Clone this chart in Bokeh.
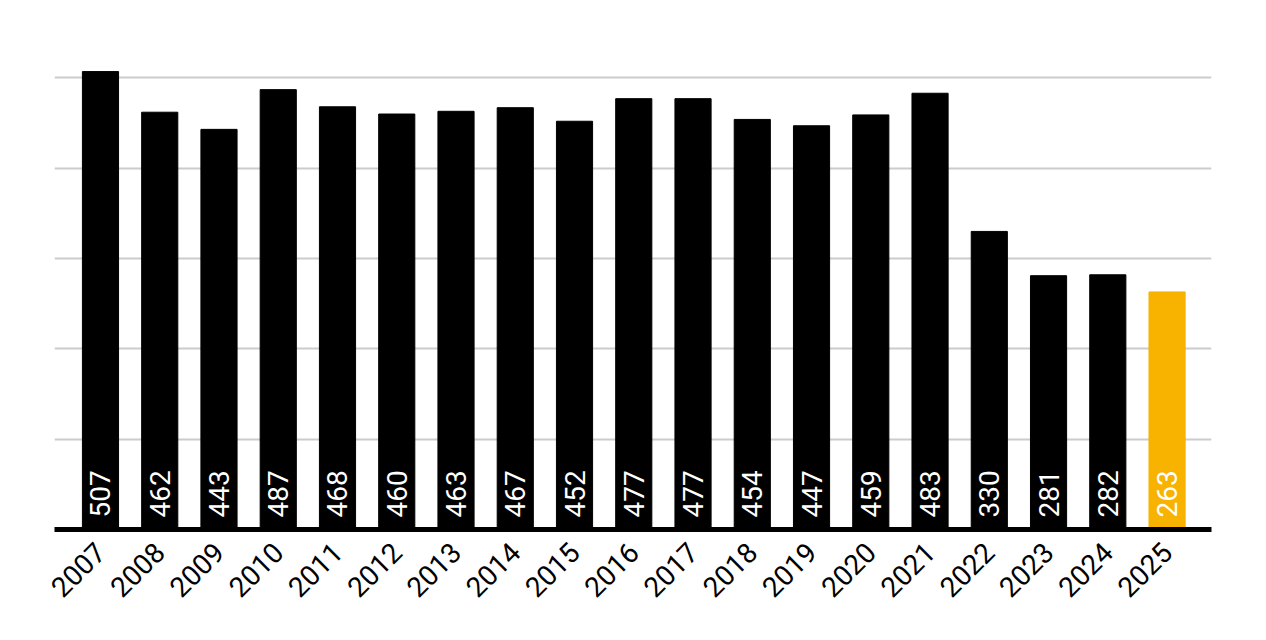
import math
from bokeh.plotting import figure
from bokeh.models import ColumnDataSource, FixedTicker, Range1d
from bokeh.core.properties import value
from bokeh.embed import file_html
from bokeh.resources import INLINE

years = ["2007", "2008", "2009", "2010", "2011", "2012", "2013", "2014", "2015", "2016",
         "2017", "2018", "2019", "2020", "2021", "2022", "2023", "2024", "2025"]
values = [507, 462, 443, 487, 468, 460, 463, 467, 452, 477,
          477, 454, 447, 459, 483, 330, 281, 282, 263]
grid_ticks = [100, 200, 300, 400, 500]

black = "#000000"
highlight = "#F8B200"
colors = [black] * (len(years) - 1) + [highlight]
xs = list(range(len(years)))

src = ColumnDataSource(dict(x=xs, v=values, c=colors, lab=[str(v) for v in values]))

p = figure(width=1258, height=632, output_backend="svg", toolbar_location=None,
           x_range=Range1d(-0.776, 18.75), y_range=Range1d(0, 558),
           min_border_left=54, min_border_right=47, min_border_top=25, min_border_bottom=103)

p.vbar(x="x", top="v", width=0.61, bottom=0, fill_color="c", line_color="c", source=src)
p.text(x="x", y=0, text="lab", angle=math.pi / 2, text_align="left", text_baseline="middle",
       y_offset=-12, text_color="white", text_font=value("Roboto"), text_font_size="28px",
       source=src)

p.outline_line_color = None
p.xgrid.grid_line_color = None
p.ygrid.ticker = FixedTicker(ticks=grid_ticks)
p.ygrid.grid_line_color = "#cccccc"
p.ygrid.grid_line_width = 2
p.yaxis.visible = False

ax = p.xaxis[0]
ax.ticker = FixedTicker(ticks=xs)
ax.major_label_overrides = {i: y for i, y in enumerate(years)}
ax.major_label_orientation = math.pi / 4
ax.major_label_text_font = "Roboto"
ax.major_label_text_font_size = "28px"
ax.major_label_text_color = "#000000"
ax.major_tick_line_color = None
ax.minor_tick_line_color = None
ax.axis_line_color = "#000000"
ax.axis_line_width = 5
ax.major_label_standoff = 12

open("out.html", "w").write(file_html(p, INLINE))
